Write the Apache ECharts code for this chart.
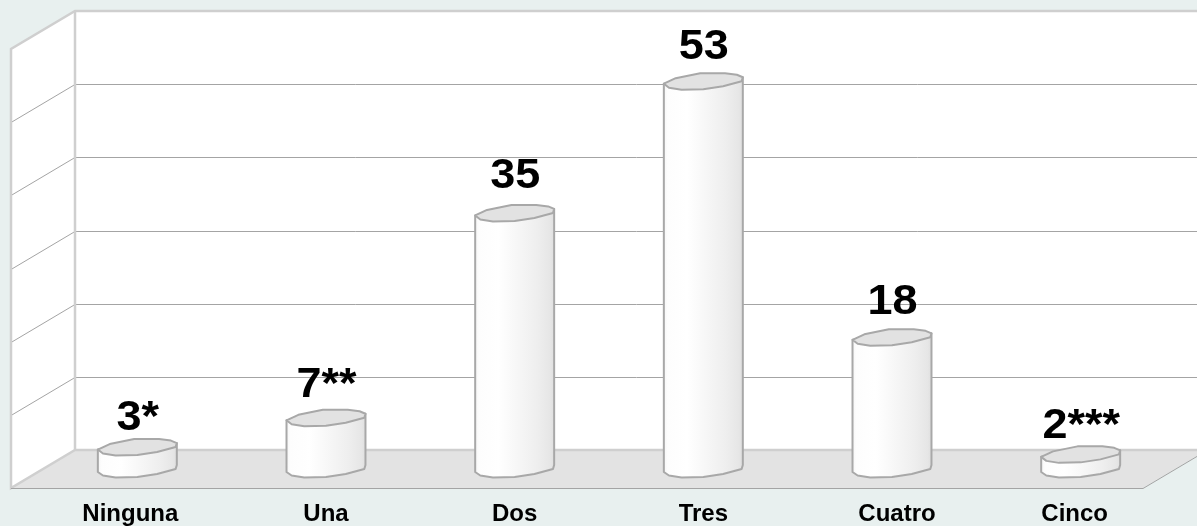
<!DOCTYPE html>
<html>
<head>
<meta charset="utf-8">
<style>html,body{margin:0;padding:0;background:#e8f0ef}#c{width:1197px;height:526px}</style>
<script src="https://cdn.jsdelivr.net/npm/echarts@6/dist/echarts.min.js"></script>
</head>
<body>
<div id="c"></div>
<script>
const categories = ['Ninguna', 'Una', 'Dos', 'Tres', 'Cuatro', 'Cinco'];
const values = [3, 7, 35, 53, 18, 2];
const valueLabels = ['3*', '7**', '35', '53', '18', '2***'];
const gridTicks = [10, 20, 30, 40, 50];

// layout constants (not data)
const labelShift = [-7, 0, 0, 0, 5, -6];
const labelGap = [29, 32, 36, 33.5, 35, 28];
const DX = 32, DY = 19;
const topUpper = [[-1,2.5],[-0.7,-3],[-0.08,-8],[0.55,-8],[0.85,-6.5],[1,-4]];
const lower = [[1,-4],[0.97,0],[0.5,5],[0,8],[-0.55,8.5],[-0.87,6.5],[-1,3]];

function renderWalls(params, api) {
  const r = params.coordSys;
  const fl = r.x, fr = r.x + r.width, t = r.y, b = r.y + r.height;
  const L0 = fl - DX, R0 = fr - DX, L1 = fl + DX, R1 = fr + DX;
  const children = [
    {type:'polygon', shape:{points:[[L1,t-DY],[R1,t-DY],[R1,b-DY],[L1,b-DY]]}, style:{fill:'#fff'}},
    {type:'polygon', shape:{points:[[L0,t+DY],[L1,t-DY],[L1,b-DY],[L0,b+DY]]}, style:{fill:'#fff'}},
    {type:'polygon', shape:{points:[[L0,b+DY],[L1,b-DY],[R1,b-DY],[R0,b+DY]]}, style:{fill:'#e3e3e3'}}
  ];
  gridTicks.forEach(function (v) {
    const y = Math.round(api.coord([0, v])[1]);
    children.push({type:'polyline', shape:{points:[[L0,y+DY+0.5],[L1,y-DY+0.5],[R1,y-DY+0.5]]},
      style:{fill:'none', stroke:'#a4a4a4', lineWidth:1}});
  });
  children.push({type:'polyline', shape:{points:[[R1,t-DY],[L1,t-DY],[L0,t+DY],[L0,b+DY],[L1,b-DY],[R1,b-DY]]},
    style:{fill:'none', stroke:'#cfcfcf', lineWidth:2.5}});
  children.push({type:'line', shape:{x1:L1,y1:t-DY,x2:L1,y2:b-DY}, style:{stroke:'#cfcfcf', lineWidth:2.5}});
  children.push({type:'polyline', shape:{points:[[L0,b+DY+0.5],[R0,b+DY+0.5],[R1,b-DY+0.5]]},
    style:{fill:'none', stroke:'#a4a4a4', lineWidth:1}});
  return {type:'group', children:children};
}

function renderBar(params, api) {
  const i = api.value(0);
  const top = api.coord([i, api.value(1)]);
  const base = api.coord([i, 0]);
  const hw = api.size([1, 0])[0] * 0.2093;
  const cx = top[0];
  const at = function (p, y) { return [cx + p[0] * hw, y + p[1]]; };
  const bodyPts = [at([1,-4], top[1])]
    .concat(lower.map(function (p) { return at(p, base[1]); }), [at([-1,2.5], top[1])]);
  const topPts = topUpper.map(function (p) { return at(p, top[1]); })
    .concat(lower.slice(1, -1).map(function (p) { return at(p, top[1]); }));
  const grad = new echarts.graphic.LinearGradient(0, 0, 1, 0, [
    {offset:0, color:'#f4f4f4'}, {offset:0.06, color:'#fdfdfd'}, {offset:0.3, color:'#ffffff'},
    {offset:0.58, color:'#f5f5f5'}, {offset:0.78, color:'#eeeeee'}, {offset:0.94, color:'#e6e6e6'},
    {offset:1, color:'#dddddd'}
  ]);
  const edge = {stroke:'#a8a8a8', lineWidth:2, lineJoin:'round'};
  return {type:'group', children:[
    {type:'polygon', shape:{points:bodyPts}, style:Object.assign({fill:grad}, edge)},
    {type:'polygon', shape:{points:topPts}, style:Object.assign({fill:'#e2e2e2'}, edge)},
    {type:'text', x:cx + 0.5, y:top[1] - labelGap[i], scaleX:1.07, style:{text:valueLabels[i], align:'center', verticalAlign:'middle',
      fill:'#000', font:'bold 42px "Liberation Sans", Arial, sans-serif'}}
  ]};
}

const chart = echarts.init(document.getElementById('c'), null, {renderer:'canvas'});
chart.setOption({
  animation:false,
  backgroundColor:'#e8f0ef',
  grid:{left:43, right:22, top:30, bottom:57, containLabel:false, outerBoundsMode:'none'},
  xAxis:{type:'category', data:categories, axisLine:{show:false}, axisTick:{show:false}, splitLine:{show:false},
    axisLabel:{interval:0, margin:33, color:'#000',
      formatter:function (v, i) { return '{a' + i + '|' + v + '}'; },
      rich:(function () {
        const o = {};
        labelShift.forEach(function (s, i) {
          o['a' + i] = {fontFamily:'Liberation Sans', fontWeight:'bold', fontSize:24, color:'#000',
            padding: s < 0 ? [0, -2 * s, 0, 0] : [0, 0, 0, 2 * s]};
        });
        return o;
      })()}},
  yAxis:{type:'value', min:0, max:60, interval:10, show:false},
  series:[
    {type:'custom', silent:true, clip:false, z:1, renderItem:renderWalls, data:[[0, 0]], encode:{x:0, y:1}},
    {type:'custom', silent:true, clip:false, z:2, renderItem:renderBar,
      data:values.map(function (v, i) { return [i, v]; }), encode:{x:0, y:1}}
  ]
});
</script>
</body>
</html>
